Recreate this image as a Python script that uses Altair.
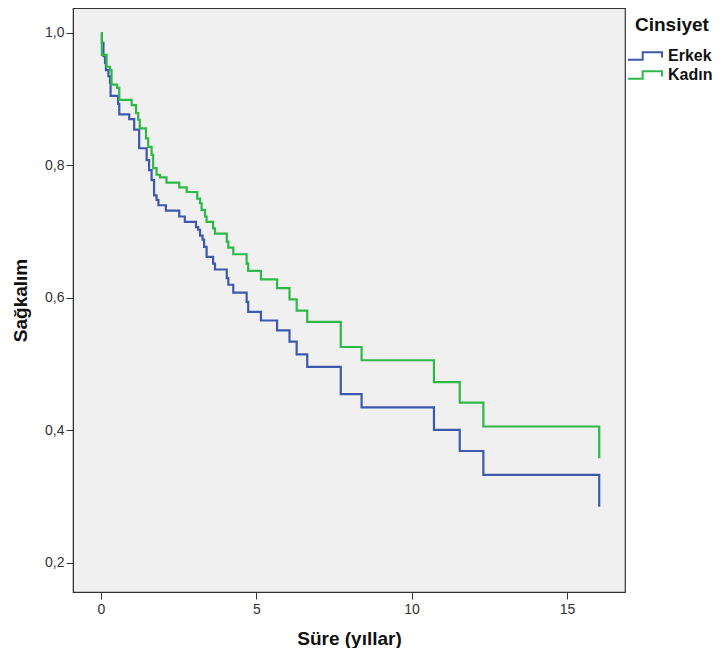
import altair as alt
import pandas as pd

groups = ["Erkek", "Kadın"]
colors = ["#3E58AC", "#2EB848"]

erkek_t = [0, 0.03, 0.08, 0.13, 0.16, 0.24, 0.29, 0.31, 0.55, 0.59, 0.91, 1.07, 1.23, 1.47, 1.55,
           1.63, 1.71, 1.79, 1.85, 2.09, 2.52, 2.70, 3.06, 3.13, 3.19, 3.27, 3.32, 3.40, 3.61, 3.67,
           4.05, 4.10, 4.26, 4.69, 4.74, 5.15, 5.67, 6.07, 6.30, 6.64, 7.72, 8.39, 10.72, 11.55,
           12.31, 16.04]
erkek_s = [1.0, 0.985, 0.965, 0.955, 0.944, 0.935, 0.925, 0.905, 0.893, 0.877, 0.870, 0.854, 0.826,
           0.808, 0.793, 0.778, 0.755, 0.748, 0.740, 0.732, 0.723, 0.715, 0.707, 0.703, 0.694, 0.688,
           0.677, 0.662, 0.652, 0.643, 0.630, 0.620, 0.608, 0.594, 0.579, 0.566, 0.551, 0.534, 0.515,
           0.496, 0.455, 0.435, 0.401, 0.369, 0.333, 0.285]

kadin_t = [0, 0.03, 0.18, 0.29, 0.34, 0.52, 0.59, 0.99, 1.13, 1.20, 1.25, 1.45, 1.52, 1.63, 1.68,
           1.79, 1.90, 2.11, 2.52, 2.76, 3.10, 3.19, 3.24, 3.35, 3.40, 3.61, 3.67, 4.05, 4.10, 4.26,
           4.69, 4.74, 5.15, 5.67, 6.07, 6.30, 6.64, 7.72, 8.39, 10.72, 11.55, 12.31, 16.04]
kadin_s = [1.0, 0.967, 0.949, 0.944, 0.922, 0.917, 0.899, 0.891, 0.879, 0.869, 0.856, 0.841, 0.828,
           0.816, 0.796, 0.786, 0.782, 0.774, 0.767, 0.760, 0.750, 0.743, 0.733, 0.723, 0.715, 0.705,
           0.697, 0.685, 0.676, 0.666, 0.652, 0.641, 0.628, 0.615, 0.598, 0.581, 0.564, 0.526, 0.506,
           0.473, 0.442, 0.406, 0.358]

x_ticks = [0, 5, 10, 15]
y_ticks = [0.2, 0.4, 0.6, 0.8, 1.0]

rows = []
for i, (t, s) in enumerate(zip(erkek_t, erkek_s)):
    rows.append({"g": "Erkek", "t": t, "s": s, "o": i})
for i, (t, s) in enumerate(zip(kadin_t, kadin_s)):
    rows.append({"g": "Kadın", "t": t, "s": s, "o": i})
df = pd.DataFrame(rows)

FONT = "Liberation Sans"
step_symbol = "M-1.8,0.37 L-0.33,0.37 L-0.33,-0.37 L1.6,-0.37 L1.6,0.15"

axis_common = dict(grid=False, domainColor="#333333", tickColor="#333333", tickSize=7,
                   labelFont=FONT, labelFontSize=14, labelColor="#333333",
                   titleFont=FONT, titleFontSize=19, titleFontWeight="bold", titleColor="#111111")

chart = alt.Chart(df).mark_line(interpolate="step-after", strokeWidth=2.2, clip=True).encode(
    x=alt.X("t:Q", scale=alt.Scale(domain=[-0.9, 16.87], nice=False, zero=False),
            axis=alt.Axis(values=x_ticks, title="Süre (yıllar)", format="d",
                          titlePadding=13, labelPadding=3, **axis_common)),
    y=alt.Y("s:Q", scale=alt.Scale(domain=[0.1562, 1.0377], nice=False, zero=False),
            axis=alt.Axis(values=y_ticks, title="Sağkalım",
                          labelExpr="replace(format(datum.value, '.1f'), '.', ',')",
                          titlePadding=14, labelPadding=2, **axis_common)),
    color=alt.Color("g:N", scale=alt.Scale(domain=groups, range=colors),
                    legend=alt.Legend(title="Cinsiyet", orient="none", legendX=562, legendY=8,
                                      symbolType=step_symbol, symbolSize=400,
                                      symbolStrokeWidth=2, symbolFillColor="transparent",
                                      labelFont=FONT, labelFontSize=16, labelFontWeight="bold",
                                      labelColor="#111111", labelOffset=11,
                                      titleFont=FONT, titleFontSize=19, titleFontWeight="bold",
                                      titleColor="#111111", titlePadding=10, rowPadding=0,
                                      padding=0)),
    order="o:Q",
).properties(
    width=552, height=584,
    autosize=alt.AutoSizeParams(type="none"),
    padding={"left": 65, "top": 0, "right": 89, "bottom": 56},
    background="white",
).configure_view(
    fill="#F0F0F0", stroke="#333333", strokeWidth=1.2
)

chart.save("out.html", embed_options={"renderer": "svg", "actions": False})
